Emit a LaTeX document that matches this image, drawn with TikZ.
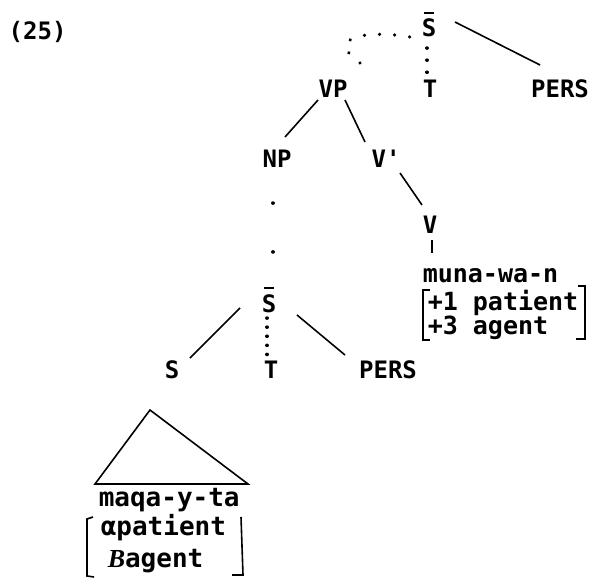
\documentclass[tikz,border=0pt]{standalone}
\usepackage{fontspec}
\setmainfont{DejaVu Sans Mono}[BoldFont={DejaVu Sans Mono Bold}]
\newfontfamily\plainmono{DejaVu Sans Mono}[Ligatures=TeXOff,BoldFont={DejaVu Sans Mono Bold}]
\newfontfamily\serifit{Liberation Serif}
\begin{document}
\begin{tikzpicture}[x=1pt,y=-1pt,line width=1.5pt,
  lab/.style={inner sep=0pt,anchor=base,font=\fontsize{24}{28}\selectfont\bfseries},
  wrd/.style={inner sep=0pt,anchor=base west,font=\fontsize{25}{30}\selectfont\bfseries},
  wrdb/.style={inner sep=0pt,anchor=base west,font=\fontsize{26}{30}\selectfont\bfseries},
  blobs/.style={line width=3.5pt,line cap=round,dash pattern=on 0.1pt off #1},
  blobs/.default=12pt,
  bar/.style={line width=2pt},
  edge/.style={line width=1.6pt}]
\useasboundingbox (0,0) rectangle (594,578);
% labels
\node[lab,anchor=base west] (ex) at (8,40) {(25)};
\node[lab] (Stop) at (429,37) {S};
\node[lab] (Ttop) at (430,97) {T};
\node[lab] (VP) at (333,97) {VP};
\node[lab] (PERStop) at (560,97) {PERS};
\node[lab] (NP) at (277,167) {NP};
\node[lab] (Vbar) at (386,167) {V{\plainmono '}};
\node[lab] (V) at (430,233) {V};
\node[wrd] (muna) at (422,282) {muna-wa-n};
\node[wrd] (fa) at (427,310) {+1 patient};
\node[wrd] (fb) at (427,334) {+3 agent};
\node[lab] (Sbar) at (269,312) {S};
\node[lab] (T) at (271,378) {T};
\node[lab] (S) at (172,378) {S};
\node[lab] (PERS) at (388,378) {PERS};
\node[wrdb] (maqa) at (98,506) {maqa-y-ta};
\node[wrdb] (ga) at (100,535) {αpatient};
\node[wrdb] (gb) at (107,567) {{\serifit\itshape B}agent};
% bars over S
\draw[bar] ([shift={(-5,-24)}]Stop.base) -- ([shift={(5,-24)}]Stop.base);
\draw[bar] ([shift={(-5,-24)}]Sbar.base) -- ([shift={(5,-24)}]Sbar.base);
% connectors
\draw[edge] ([shift={(26,-15)}]Stop.base) -- ([shift={(-20,-32)}]PERStop.base);
\draw[blobs=12pt] ([shift={(-2,11)}]Stop.base) -- ([shift={(-3,-21)}]Ttop.base);
\draw[blobs=15pt] ([shift={(27,-34)}]VP.base) .. controls (322,36) and (370,30) .. ([shift={(-19,0)}]Stop.base);
\draw[edge] ([shift={(-15,3)}]VP.base) -- ([shift={(8,-30)}]NP.base);
\draw[edge] ([shift={(12,3)}]VP.base) -- ([shift={(-21,-25)}]Vbar.base);
\draw[edge] ([shift={(14,6)}]Vbar.base) -- ([shift={(-8,-28)}]V.base);
\draw[edge] ([shift={(2,7)}]V.base) -- ([shift={(10,-29)}]muna.base west);
\draw[blobs=48.8pt] ([shift={(-4,36)}]NP.base) -- ([shift={(4,-60)}]Sbar.base);
\draw[edge] ([shift={(-29,-4)}]Sbar.base) -- ([shift={(18,-20)}]S.base);
\draw[blobs=9pt] ([shift={(-2,6)}]Sbar.base) -- ([shift={(-4,-23)}]T.base);
\draw[edge] ([shift={(28,3)}]Sbar.base) -- ([shift={(-43,-23)}]PERS.base);
% brackets
\draw[edge] (430,290) -- (423,290) -- (423,340) -- (430,340);
\draw[edge] (578,286) -- (585,286) -- (585,339) -- (576,339);
\draw[edge] (93,517) -- (87,519) -- (87,576) -- (94,577);
\draw[edge] (241,517) -- (243,575) -- (232,575);
% triangle
\coordinate (apex) at (150,410);
\draw[edge] (apex) -- (95,484) -- (248,484) -- cycle;
\end{tikzpicture}
\end{document}
